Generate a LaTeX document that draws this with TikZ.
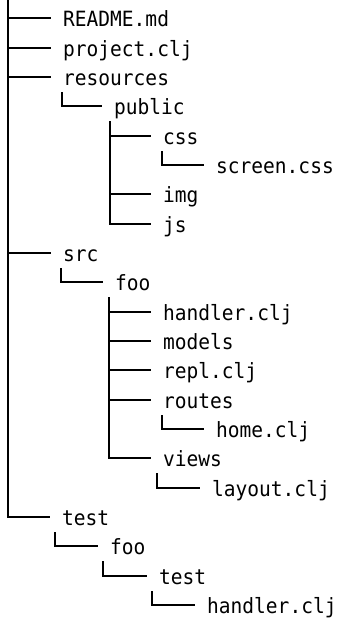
\documentclass[tikz,border=0pt]{standalone}
\usepackage{fontspec}
\setmonofont[FakeStretch=0.93]{DejaVu Sans Mono}
\newcommand\rowy[1]{round(18.3+29.33*#1)}
\tikzset{
  entry/.style={anchor=west, font=\ttfamily\fontsize{21}{22}\selectfont,
    inner xsep=12pt, inner ysep=0pt, text height=20pt, text depth=3pt},
  branch/.style={line width=2pt, line join=miter, line cap=butt},
}
\begin{document}
\begin{tikzpicture}[x=1pt, y=-1pt]
\useasboundingbox (0,0) rectangle (338,619);
% entries
\node[entry] (readme)    at (51,{\rowy{0}})  {README.md};
\node[entry] (project)   at (51,{\rowy{1}})  {project.clj};
\node[entry] (resources) at (51,{\rowy{2}})  {resources};
\node[entry] (public)    at (102,{\rowy{3}}) {public};
\node[entry] (css)       at (151,{\rowy{4}}) {css};
\node[entry] (screen)    at (204,{\rowy{5}}) {screen.css};
\node[entry] (img)       at (151,{\rowy{6}}) {img};
\node[entry] (js)        at (151,{\rowy{7}}) {js};
\node[entry] (src)       at (51,{\rowy{8}})  {src};
\node[entry] (foo)       at (103,{\rowy{9}}) {foo};
\node[entry] (handler)   at (151,{\rowy{10}}) {handler.clj};
\node[entry] (models)    at (151,{\rowy{11}}) {models};
\node[entry] (repl)      at (151,{\rowy{12}}) {repl.clj};
\node[entry] (routes)    at (151,{\rowy{13}}) {routes};
\node[entry] (home)      at (204,{\rowy{14}}) {home.clj};
\node[entry] (views)     at (151,{\rowy{15}}) {views};
\node[entry] (layout)    at (200,{\rowy{16}}) {layout.clj};
\node[entry] (test)      at (50,{\rowy{17}})  {test};
\node[entry] (tfoo)      at (98,{\rowy{18}})  {foo};
\node[entry] (ttest)     at (147,{\rowy{19}}) {test};
\node[entry] (thandler)  at (195,{\rowy{20}}) {handler.clj};
% branch points
\coordinate (root)     at (8,0);
\coordinate (resb)     at (62,{\rowy{2}+15});
\coordinate (pubb)     at (110,{\rowy{3}+15});
\coordinate (cssb)     at (162,{\rowy{4}+15});
\coordinate (srcb)     at (61,{\rowy{8}+15});
\coordinate (foob)     at (109,{\rowy{9}+15});
\coordinate (routesb)  at (162,{\rowy{13}+15});
\coordinate (viewsb)   at (157,{\rowy{15}+15});
\coordinate (testb)    at (55,{\rowy{17}+15});
\coordinate (tfoob)    at (103,{\rowy{18}+15});
\coordinate (ttestb)   at (152,{\rowy{19}+15});
% connectors
\foreach \c in {readme,project,resources,src,test}
  \draw[branch] (root) |- (\c.west);
\draw[branch] (resb) |- (public.west);
\foreach \c in {css,img,js}
  \draw[branch] (pubb) |- (\c.west);
\draw[branch] (cssb) |- (screen.west);
\draw[branch] (srcb) |- (foo.west);
\foreach \c in {handler,models,repl,routes,views}
  \draw[branch] (foob) |- (\c.west);
\draw[branch] (routesb) |- (home.west);
\draw[branch] (viewsb) |- (layout.west);
\draw[branch] (testb) |- (tfoo.west);
\draw[branch] (tfoob) |- (ttest.west);
\draw[branch] (ttestb) |- (thandler.west);
\end{tikzpicture}
\end{document}
